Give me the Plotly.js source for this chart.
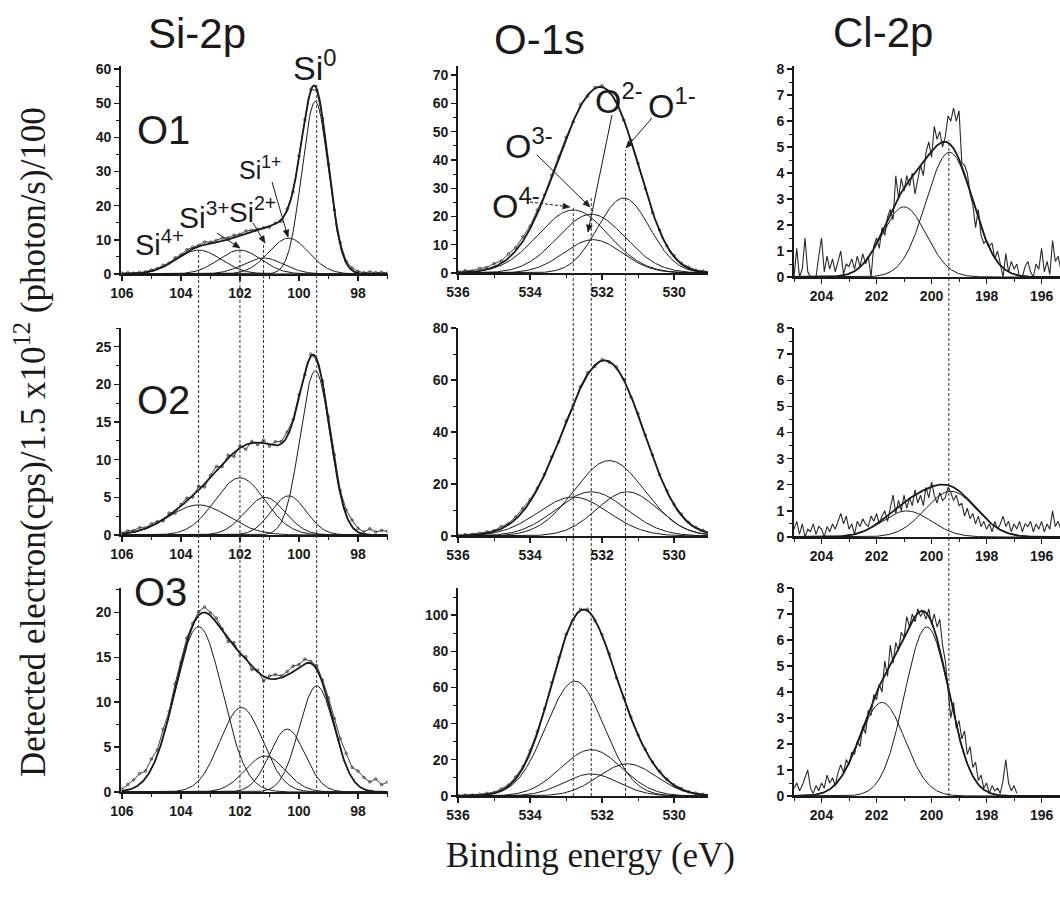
<!DOCTYPE html>
<html><head><meta charset="utf-8">
<script src="https://cdn.plot.ly/plotly-3.0.1.min.js"></script>
<style>body{margin:0;background:#fff}#chart{width:1060px;height:902px}</style>
</head><body><div id="chart"></div>
<script>
// ---------------- DATA ----------------
// Fitted peak components: centre (eV), height, FWHM (eV)
const siNames = ['Si4+','Si3+','Si2+','Si1+','Si0'];
const siO1_center = [103.4, 102.0, 101.2, 100.35, 99.45];
const siO1_height = [7.0, 7.0, 4.7, 10.5, 50.5];
const siO1_fwhm   = [1.8, 1.7, 1.6, 1.6, 1.05];
const siO2_center = [103.4, 102.0, 101.15, 100.35, 99.45];
const siO2_height = [4.0, 7.6, 5.0, 5.2, 21.8];
const siO2_fwhm   = [2.4, 2.0, 1.6, 1.4, 1.2];
const siO3_center = [103.4, 101.95, 101.15, 100.4, 99.4];
const siO3_height = [18.4, 9.4, 4.0, 7.0, 11.8];
const siO3_fwhm   = [1.9, 1.7, 1.6, 1.4, 1.4];

const oNames = ['O4-','O3-','O2-','O1-'];
const oO1_center = [532.8, 532.3, 532.25, 531.4];
const oO1_height = [22.3, 20.8, 11.8, 26.5];
const oO1_fwhm   = [2.3, 2.2, 1.9, 1.7];
const oO2_center = [532.8, 532.3, 531.8, 531.3];
const oO2_height = [15.0, 17.0, 29.0, 17.0];
const oO2_fwhm   = [2.3, 2.3, 2.3, 2.0];
const oO3_center = [532.75, 532.3, 532.3, 531.3];
const oO3_height = [63.5, 25.6, 12.2, 17.8];
const oO3_fwhm   = [1.9, 2.0, 1.8, 1.9];

const clO1_center = [201.0, 199.35];
const clO1_height = [2.7, 4.8];
const clO1_fwhm   = [1.9, 2.0];
const clO2_center = [200.9, 199.3];
const clO2_height = [1.0, 1.75];
const clO2_fwhm   = [2.1, 2.2];
const clO3_center = [201.8, 200.17];
const clO3_height = [3.6, 6.5];
const clO3_fwhm   = [1.95, 1.9];

// Measured spectra, Si-2p and O-1s: deviation of the measured points from the fit envelope
// (Si: every 0.2 eV from 106.0 eV; O: every 0.2 eV from 536.0 eV)
const siO1_resid = [0.2,0.3,0.1,0.3,0.2,0.4,0.3,0.5,0.2,0.6,0.3,0.7,0.5,0.3,0.8,0.4,0.6,0.9,0.5,0.7,0.4,0.8,0.5,0.3,0.1,-0.3,0.2,-0.5,0.4,-0.4,0.6,-0.2,0.3,-0.5,-0.2,0.3,0.5,0.6,0.4,0.7,0.5,0.3,0.6,0.4,0.5,0.3];
const siO2_resid = [0.1,0.3,0.2,0.4,0.1,0.3,0.2,-0.2,0.3,-0.3,0.2,0.4,-0.2,0.5,-0.4,0.3,0.6,-0.3,0.4,-0.5,0.3,-0.6,0.2,-0.3,0.4,-0.2,0.5,0.3,0.6,0.2,0.4,-0.3,0.3,-0.2,0.2,0.5,0.8,0.4,0.7,0.9,0.5,0.3,0.8,0.4,0.6,0.5];
const siO3_resid = [0.2,0.6,0.9,1.2,0.8,1.1,0.6,0.9,0.4,0.7,0.3,0.5,0.2,0.4,0.6,0.3,0.5,0.2,-0.3,0.4,-0.2,0.3,-0.4,0.2,-0.5,0.3,0.5,0.2,0.4,0.6,0.3,0.5,0.2,0.4,0.3,0.6,0.9,1.1,1.4,1.2,1.6,1.3,1.0,1.4,0.8,1.1];
const oO1_resid = [0.3,0.6,0.4,0.9,0.7,1.2,0.8,1.5,1.1,1.6,0.9,1.3,0.6,0.8,0.4,0.5,-0.3,0.6,-0.4,0.3,0.5,-0.2,0.4,-0.3,0.2,0.5,0.3,-0.2,0.4,0.2,0.5,0.3,0.4,0.2,0.3,0.2];
const oO2_resid = [0.2,0.4,0.3,0.5,0.6,0.4,0.8,0.5,0.9,1.2,0.8,0.5,0.3,0.6,-0.4,0.5,-0.3,0.6,0.8,-0.5,0.4,-0.3,0.5,0.3,-0.4,0.6,0.3,0.5,0.2,0.4,0.3,0.5,0.2,0.3,0.4,0.2];
const oO3_resid = [0.3,0.5,0.4,0.6,0.8,0.5,1.0,0.7,1.2,0.9,1.5,1.1,0.6,0.8,0.4,0.7,-0.5,0.6,0.9,-0.4,0.5,0.8,-0.6,0.4,0.7,0.3,0.5,0.2,0.6,0.4,0.3,0.5,0.2,0.4,0.3,0.2];

// Measured Cl-2p spectra, every 0.1 eV from 205.0 eV
const clO1_raw = [0.0,1.1,0.0,0.3,1.5,0.2,0.0,0.0,0.0,0.8,1.5,0.2,0.8,0.3,0.7,0.2,0.6,1.0,0.1,0.5,
 0.4,0.7,0.3,0.8,0.4,0.9,0.5,0.8,0.0,1.2,1.5,1.1,1.9,1.6,2.3,2.6,2.2,3.9,3.0,3.8,
 3.3,3.9,3.5,4.0,3.2,3.8,4.3,3.9,4.8,5.2,4.6,5.8,5.3,5.6,5.0,5.4,6.2,6.0,6.5,6.0,
 6.4,4.4,4.3,4.0,3.2,2.8,1.9,2.6,1.6,1.3,1.4,1.2,1.3,0.7,1.0,0.5,0.0,0.9,0.2,0.6,
 0.3,0.5,0.0,0.0,0.4,0.6,0.2,0.0,0.5,0.3,1.1,0.2,0.6,0.1,1.4,0.6,0.8,0.3];
const clO2_raw = [0.3,0.6,0.1,0.5,0.0,0.3,0.2,0.5,0.1,0.4,0.3,0.0,0.4,0.2,0.5,0.3,0.6,0.9,0.5,0.8,
 0.3,0.5,0.1,0.6,0.4,0.7,0.5,0.4,0.8,0.6,0.9,0.5,0.8,1.0,0.6,1.1,1.6,0.9,1.4,1.0,
 1.6,1.1,1.5,1.2,1.8,1.3,1.6,1.2,1.9,1.5,2.1,1.6,1.3,1.7,1.4,1.5,1.9,1.7,1.4,1.6,
 1.2,1.3,0.8,1.1,0.7,0.9,0.5,0.8,0.4,0.6,0.3,0.5,0.2,0.6,0.3,0.5,0.8,0.4,0.6,0.2,
 0.5,0.3,0.6,0.2,0.5,0.4,0.6,0.2,0.5,0.3,0.6,0.2,0.5,0.3,1.0,0.4,0.6,0.3];
const clO3_raw = [0.3,0.5,0.2,0.4,0.7,1.0,0.3,0.1,0.4,0.2,0.5,0.3,0.8,0.5,0.7,0.4,0.9,1.2,0.9,1.4,
 1.2,1.7,1.6,2.1,1.9,2.7,2.4,3.3,3.1,3.9,3.7,4.3,4.0,5.2,4.6,5.8,5.1,5.9,5.6,6.3,
 6.1,6.9,6.5,7.0,6.7,7.2,6.9,7.1,6.8,7.2,6.6,7.0,6.5,6.8,5.8,5.2,4.1,3.0,3.6,2.6,
 2.9,2.2,2.5,1.6,1.9,1.1,1.3,0.6,0.8,0.3,0.5,0.1,0.4,0.2,0.3,0.1,0.6,1.4,0.5,0.2,
 0.4,0.1];

// Texts
const colTitles = ['Si-2p','O-1s','Cl-2p'];
const rowLabels = ['O1','O2','O3'];
const siLabels = ['Si<sup>4+</sup>','Si<sup>3+</sup>','Si<sup>2+</sup>','Si<sup>1+</sup>','Si<sup>0</sup>'];
const oLabels = ['O<sup>4-</sup>','O<sup>3-</sup>','O<sup>2-</sup>','O<sup>1-</sup>'];
const yTitle = 'Detected electron(cps)/1.5 x10<sup>12</sup> (photon/s)/100';
const xTitle = 'Binding energy (eV)';

// ---------------- BUILD ----------------
const W = 1060, H = 902;
const fx = p => p / W, fy = p => 1 - p / H;
function gauss(x, c, h, f) { const s = f / 2.35482; return h * Math.exp(-0.5 * ((x - c) / s) ** 2); }

const panels = [
  {c:siO1_center, h:siO1_height, f:siO1_fwhm, resid:siO1_resid, start:106.0, step:0.2, lo:97.0, hi:106.0},
  {c:oO1_center, h:oO1_height, f:oO1_fwhm, resid:oO1_resid, start:536.0, step:0.2, lo:529.0, hi:536.0},
  {c:clO1_center, h:clO1_height, f:clO1_fwhm, raw:clO1_raw, start:205.0, step:0.1, lo:195.3, hi:205.0},
  {c:siO2_center, h:siO2_height, f:siO2_fwhm, resid:siO2_resid, start:106.0, step:0.2, lo:97.0, hi:106.0},
  {c:oO2_center, h:oO2_height, f:oO2_fwhm, resid:oO2_resid, start:536.0, step:0.2, lo:529.0, hi:536.0},
  {c:clO2_center, h:clO2_height, f:clO2_fwhm, raw:clO2_raw, start:205.0, step:0.1, lo:195.3, hi:205.0},
  {c:siO3_center, h:siO3_height, f:siO3_fwhm, resid:siO3_resid, start:106.0, step:0.2, lo:97.0, hi:106.0},
  {c:oO3_center, h:oO3_height, f:oO3_fwhm, resid:oO3_resid, start:536.0, step:0.2, lo:529.0, hi:536.0},
  {c:clO3_center, h:clO3_height, f:clO3_fwhm, raw:clO3_raw, start:205.0, step:0.1, lo:195.3, hi:205.0},
];

const colPx = [[121, 387.5], [458, 708], [794, 1060]];
const colRange = [[106.03, 97.0], [536, 529.06], [205, 195.33]];
const rowPx = [
  [[66, 274], [66, 273], [66, 277]],
  [[328, 535], [328, 536], [328, 537]],
  [[588, 792], [588, 796], [588, 796]]
];
const yRange = [
  [[0, 60.9], [0, 73.2], [0, 8.12]],
  [[0, 27.5], [0, 80], [0, 8.0]],
  [[0, 22.7], [0, 115], [0, 8.0]]
];
const yDtick = [[10, 10, 1], [5, 20, 1], [5, 20, 1]];

const ink = '#1a1a1a';
const traces = [];
const layout = {
  width: W, height: H, margin: {l: 0, r: 0, t: 0, b: 0},
  paper_bgcolor: '#fff', plot_bgcolor: 'rgba(0,0,0,0)', showlegend: false,
  shapes: [], annotations: []
};
const tickfont = {family: 'Liberation Sans, Arial, sans-serif', size: 14, color: ink, weight: 'bold'};

panels.forEach((p, i) => {
  const r = Math.floor(i / 3), col = i % 3;
  const xa = i === 0 ? 'x' : 'x' + (i + 1), ya = i === 0 ? 'y' : 'y' + (i + 1);
  const xk = i === 0 ? 'xaxis' : 'xaxis' + (i + 1), yk = i === 0 ? 'yaxis' : 'yaxis' + (i + 1);
  layout[xk] = {
    domain: [fx(colPx[col][0]), fx(colPx[col][1])], range: colRange[col], anchor: ya,
    showline: true, linecolor: ink, linewidth: 1.8, ticks: 'outside', ticklen: 5, tickwidth: 1.3, tickcolor: ink,
    dtick: 2, tick0: 0, minor: {ticks: 'outside', ticklen: 3, dtick: 1, tickcolor: ink, tickwidth: 1},
    showgrid: false, zeroline: false, tickfont: tickfont, fixedrange: true
  };
  const dt = yDtick[r][col];
  layout[yk] = {
    domain: [fy(rowPx[r][col][1]), fy(rowPx[r][col][0])], range: yRange[r][col], anchor: xa,
    showline: true, linecolor: ink, linewidth: 1.8, ticks: 'outside', ticklen: 5, tickwidth: 1.3, tickcolor: ink,
    dtick: dt, tick0: 0, minor: {ticks: 'outside', ticklen: 3, dtick: dt / 2, tickcolor: ink, tickwidth: 1},
    showgrid: false, zeroline: false, tickfont: tickfont, fixedrange: true
  };
  const xs = [];
  for (let k = 0; ; k++) { const x = p.hi - k * 0.02; if (x < p.lo - 1e-9) break; xs.push(+x.toFixed(3)); }
  const env = x => p.c.reduce((s, c, j) => s + gauss(x, c, p.h[j], p.f[j]), 0);
  p.c.forEach((c, j) => {
    traces.push({x: xs, y: xs.map(x => gauss(x, c, p.h[j], p.f[j])), xaxis: xa, yaxis: ya,
      mode: 'lines', line: {color: ink, width: 1}, hoverinfo: 'skip'});
  });
  let rx = [], ry = [];
  if (p.raw) {
    p.raw.forEach((v, k) => { rx.push(+(p.start - k * p.step).toFixed(2)); ry.push(v); });
  } else {
    p.resid.forEach((v, k) => { const x = +(p.start - k * p.step).toFixed(2); rx.push(x); ry.push(Math.max(0, env(x) + v)); });
  }
  traces.push({x: rx, y: ry, xaxis: xa, yaxis: ya, mode: p.raw ? 'lines' : 'lines+markers',
    marker: {symbol: 'circle-open', size: 2.5, color: '#333', line: {width: 0.8}},
    line: {color: '#2a2a2a', width: p.raw ? 1.1 : 0.9}, hoverinfo: 'skip'});
  traces.push({x: xs, y: xs.map(env), xaxis: xa, yaxis: ya, mode: 'lines',
    line: {color: ink, width: 1.8}, hoverinfo: 'skip'});
});

// dashed guide lines at the peak positions
const siGuide = [103.4, 102.0, 101.2, 99.4];
const oGuide = [532.8, 532.3, 531.35];
const clGuide = [199.37];
const dash = {color: '#333', width: 1, dash: '3px,2px'};
const siTop = [250, 250, 243, 85];
siGuide.forEach((g, k) => layout.shapes.push({type: 'line', xref: 'x', yref: 'paper', x0: g, x1: g, y0: fy(793), y1: fy(siTop[k]), line: dash}));
const oTop = [207, 196, 150];
oGuide.forEach((g, k) => layout.shapes.push({type: 'line', xref: 'x2', yref: 'paper', x0: g, x1: g, y0: fy(796), y1: fy(oTop[k]), line: dash}));
clGuide.forEach(g => layout.shapes.push({type: 'line', xref: 'x3', yref: 'paper', x0: g, x1: g, y0: fy(796), y1: fy(140), line: dash}));

const A = layout.annotations;
const sans = 'Liberation Sans, Arial, sans-serif';
function txt(t, x, y, size) { A.push({text: t, xref: 'paper', yref: 'paper', x: fx(x), y: fy(y), showarrow: false, xanchor: 'center', yanchor: 'middle', font: {family: sans, size: size, color: ink}}); }
// arrow drawn as a line plus a filled head (pixel coordinates converted to paper)
function arrow(x0, y0, x1, y1, dashed) {
  layout.shapes.push({type: 'line', xref: 'paper', yref: 'paper', x0: fx(x0), y0: fy(y0), x1: fx(x1), y1: fy(y1),
    line: {color: ink, width: 1, dash: dashed ? '3px,2px' : 'solid'}});
  const dx = x1 - x0, dy = y1 - y0, L = Math.hypot(dx, dy), ux = dx / L, uy = dy / L;
  const hl = 7, hw = 3;
  const bx = x1 - ux * hl, by = y1 - uy * hl;
  const p1 = [bx - uy * hw, by + ux * hw], p2 = [bx + uy * hw, by - ux * hw];
  layout.shapes.push({type: 'path', xref: 'paper', yref: 'paper',
    path: `M ${fx(x1)} ${fy(y1)} L ${fx(p1[0])} ${fy(p1[1])} L ${fx(p2[0])} ${fy(p2[1])} Z`,
    fillcolor: ink, line: {color: ink, width: 0.5}});
}

txt(colTitles[0], 197, 33, 42);
txt(colTitles[1], 539, 40, 42);
txt(colTitles[2], 883, 32, 42);
txt(rowLabels[0], 163, 130, 40);
txt(rowLabels[1], 163, 400, 40);
txt(rowLabels[2], 160, 592, 40);

txt(siLabels[4], 314, 66, 34);
txt(siLabels[3], 260, 168, 25);
txt(siLabels[2], 252, 210, 28);
txt(siLabels[1], 204, 215, 30);
txt(siLabels[0], 159, 243, 29);
arrow(272, 182, 288, 237);
arrow(253, 223, 265, 243);
arrow(217, 233, 240, 248);

txt(oLabels[0], 516, 203, 34);
txt(oLabels[1], 529, 143, 34);
txt(oLabels[2], 619, 98, 34);
txt(oLabels[3], 672, 103, 34);
arrow(530, 202, 570, 207, true);
arrow(537, 155, 590, 207);
arrow(612, 115, 588, 232);
arrow(652, 118, 626, 148);

A.push({text: yTitle, xref: 'paper', yref: 'paper', x: fx(30), y: fy(442), showarrow: false, textangle: -90,
  xanchor: 'center', yanchor: 'middle', font: {family: 'Liberation Serif, Times New Roman, serif', size: 35, color: ink}});
A.push({text: xTitle, xref: 'paper', yref: 'paper', x: fx(590), y: fy(855), showarrow: false,
  xanchor: 'center', yanchor: 'middle', font: {family: 'Liberation Serif, Times New Roman, serif', size: 35, color: ink}});

Plotly.newPlot('chart', traces, layout, {staticPlot: true, displayModeBar: false});
</script></body></html>
